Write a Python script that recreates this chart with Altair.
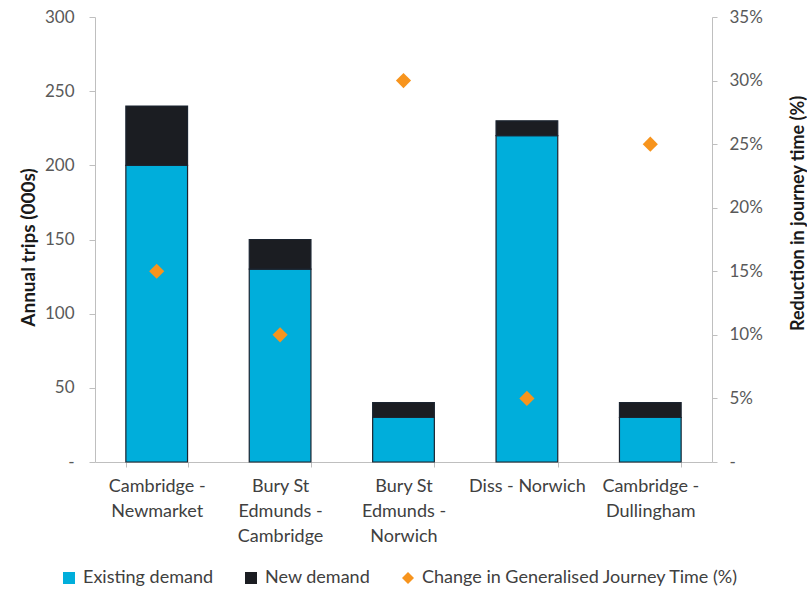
import altair as alt
import pandas as pd

# Route pairs (line breaks give the wrapped axis labels)
routes = [
    "Cambridge -\nNewmarket",
    "Bury St\nEdmunds -\nCambridge",
    "Bury St\nEdmunds -\nNorwich",
    "Diss - Norwich",
    "Cambridge -\nDullingham",
]
existing_demand = [200, 130, 30, 220, 30]   # annual trips (000s)
new_demand = [40, 20, 10, 10, 10]           # annual trips (000s)
gjt_change = [0.15, 0.10, 0.30, 0.05, 0.25]  # reduction in journey time

series_names = ["Existing demand", "New demand", "Change in Generalised Journey Time (%)"]
series_colors = ["#00AEDB", "#1B1D22", "#F7941D"]
series_shapes = ["square", "square", "diamond"]

bars_df = pd.DataFrame(
    [{"route": r, "series": series_names[0], "trips": v, "stack": 0} for r, v in zip(routes, existing_demand)]
    + [{"route": r, "series": series_names[1], "trips": v, "stack": 1} for r, v in zip(routes, new_demand)]
)
points_df = pd.DataFrame({"route": routes, "series": series_names[2], "gjt": gjt_change})

FONT = "Lato"
LABEL_COLOR = "#595959"
AXIS_GREY = "#BFBFBF"

x_enc = alt.X(
    "route:N",
    sort=routes,
    scale=alt.Scale(domain=routes, paddingInner=0.5, paddingOuter=0.25),
    axis=alt.Axis(
        title=None,
        labelAngle=0,
        labelExpr="split(datum.label, '\\n')",
        labelLineHeight=25,
        labelFontSize=18,
        labelPadding=10,
        tickBand="extent",
        tickSize=5,
        domainColor=AXIS_GREY,
        tickColor=AXIS_GREY,
        labelColor="#404040",
    ),
)

shared_legend = alt.Legend(
    title=None,
    orient="none",
    direction="horizontal",
    legendX=-35,
    legendY=552,
    labelFontSize=18,
    labelColor="#404040",
    labelFont=FONT,
    labelLimit=0,
    symbolSize=144,
    symbolStrokeWidth=0,
    columnPadding=28,
    labelOffset=5,
)
color_enc = alt.Color(
    "series:N",
    scale=alt.Scale(domain=series_names, range=series_colors),
    legend=shared_legend,
)

bars = alt.Chart(bars_df).mark_bar(stroke="#1B2430", strokeWidth=1.2).encode(
    x=x_enc,
    y=alt.Y(
        "trips:Q",
        stack="zero",
        scale=alt.Scale(domain=[0, 300]),
        axis=alt.Axis(
            title="Annual trips (000s)",
            values=[0, 50, 100, 150, 200, 250, 300],
            labelExpr="datum.value == 0 ? '-' : datum.label",
            grid=False,
            tickSize=6,
            labelPadding=15,
            labelFontSize=17,
            labelColor=LABEL_COLOR,
            domainColor=AXIS_GREY,
            tickColor=AXIS_GREY,
            titleFontSize=19,
            titleFontWeight="bold",
            titleColor="#1A1A1A",
            titleX=-67,
            titleY=230,
            titleBaseline="middle",
            titleAlign="center",
        ),
    ),
    color=color_enc,
    order=alt.Order("stack:Q"),
)

points = alt.Chart(points_df).mark_point(filled=True, size=230, opacity=1).encode(
    x=alt.X("route:N", sort=routes),
    y=alt.Y(
        "gjt:Q",
        scale=alt.Scale(domain=[0, 0.35]),
        axis=alt.Axis(
            title="Reduction in journey time (%)",
            orient="right",
            values=[0, 0.05, 0.10, 0.15, 0.20, 0.25, 0.30, 0.35],
            labelExpr="datum.value == 0 ? '-' : format(datum.value, '.0%')",
            grid=False,
            tickSize=5,
            labelPadding=12,
            labelFontSize=17,
            labelColor=LABEL_COLOR,
            domainColor=AXIS_GREY,
            tickColor=AXIS_GREY,
            titleFontSize=18,
            titleFontWeight="bold",
            titleColor="#1A1A1A",
            titleAngle=270,
            titleX=86,
            titleY=196,
            titleBaseline="middle",
            titleAlign="center",
        ),
    ),
    color=color_enc,
    shape=alt.Shape(
        "series:N",
        scale=alt.Scale(domain=series_names, range=series_shapes),
        legend=shared_legend,
    ),
)

chart = (
    alt.layer(bars, points)
    .resolve_scale(y="independent")
    .properties(
        width=617,
        height=445,
        padding={"left": 95, "top": 17, "right": 95, "bottom": 129},
        autosize=alt.AutoSizeParams(type="none"),
        background="white",
    )
    .configure(font=FONT)
    .configure_view(stroke=None)
)

chart.save("out.html", embed_options={"renderer": "svg", "actions": False})
